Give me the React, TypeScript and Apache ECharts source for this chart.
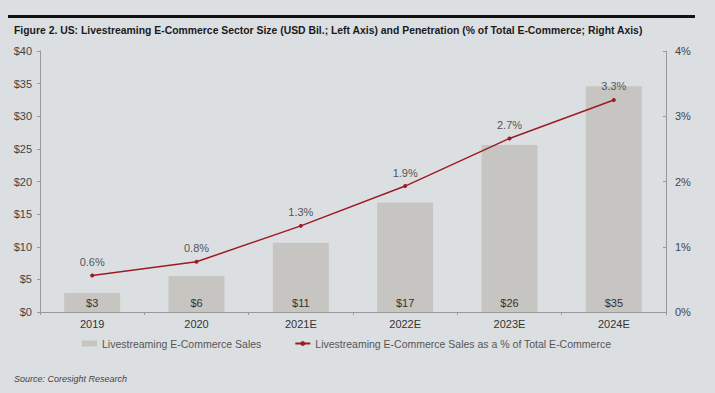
import React, { useEffect, useRef } from "react";
import * as echarts from "echarts";

const categories = ["2019", "2020", "2021E", "2022E", "2023E", "2024E"];
const salesBil = [2.9, 5.5, 10.6, 16.8, 25.6, 34.6];
const penetrationPct = [0.56, 0.77, 1.32, 1.93, 2.66, 3.25];
const leftTicks = [0, 5, 10, 15, 20, 25, 30, 35, 40];
const rightTicks = [0, 1, 2, 3, 4];

const titleText =
  "Figure 2. US: Livestreaming E-Commerce Sector Size (USD Bil.; Left Axis) and Penetration (% of Total E-Commerce; Right Axis)";
const sourceText = "Source: Coresight Research";
const salesName = "Livestreaming E-Commerce Sales";
const penName = "Livestreaming E-Commerce Sales as a % of Total E-Commerce";

const FONT = "'Liberation Sans', Arial, sans-serif";

export default function App() {
  const ref = useRef<HTMLDivElement>(null);
  useEffect(() => {
    if (!ref.current) return;
    const chart = echarts.init(ref.current, null, { renderer: "svg" });
    chart.setOption({
      animation: false,
      backgroundColor: "#dcdfe2",
      textStyle: { fontFamily: FONT },
      graphic: [
        {
          type: "rect",
          shape: { x: 8, y: 15, width: 687, height: 3 },
          style: { fill: "#111" },
        },
        {
          type: "text",
          x: 14,
          y: 30,
          style: {
            text: titleText,
            font: "bold 10.4px " + FONT,
            fill: "#1a1a1a",
            verticalAlign: "middle",
          },
        },
        {
          type: "text",
          x: 14,
          y: 379,
          style: {
            text: sourceText,
            font: "italic 9px " + FONT,
            fill: "#444",
            verticalAlign: "middle",
          },
        },
      ],
      legend: {
        left: 82,
        top: 338,
        padding: 0,
        itemGap: 33,
        itemWidth: 15,
        itemHeight: 6,
        textStyle: { fontFamily: FONT, fontSize: 10.5, color: "#555" },
        data: [
          { name: salesName, icon: "rect", itemStyle: { color: "#c6c5c1" } },
          { name: penName },
        ],
      },
      grid: { left: 40, right: 49, top: 51, bottom: 81 },
      xAxis: {
        type: "category",
        data: categories,
        axisLine: { lineStyle: { color: "#999" } },
        axisTick: { show: true, length: 3, lineStyle: { color: "#999" } },
        axisLabel: { color: "#333", fontSize: 11, margin: 6, fontFamily: FONT },
      },
      yAxis: [
        {
          type: "value",
          min: leftTicks[0],
          max: leftTicks[leftTicks.length - 1],
          interval: 5,
          splitLine: { show: false },
          axisLine: { show: true, lineStyle: { color: "#999" } },
          axisTick: { show: true, length: 3, lineStyle: { color: "#999" } },
          axisLabel: {
            color: "#444",
            fontSize: 11,
            margin: 8,
            fontFamily: FONT,
            formatter: (v: number) => "$" + v,
          },
        },
        {
          type: "value",
          min: rightTicks[0],
          max: rightTicks[rightTicks.length - 1],
          interval: 1,
          position: "right",
          splitLine: { show: false },
          axisLine: { show: true, lineStyle: { color: "#999" } },
          axisTick: { show: true, inside: true, length: 3, lineStyle: { color: "#999" } },
          axisLabel: {
            color: "#444",
            fontSize: 11,
            margin: 9,
            fontFamily: FONT,
            formatter: (v: number) => v + "%",
          },
        },
      ],
      series: [
        {
          name: salesName,
          type: "bar",
          data: salesBil,
          barWidth: 56,
          itemStyle: { color: "#c6c5c1" },
          label: {
            show: true,
            position: "insideBottom",
            distance: 4,
            color: "#333",
            fontSize: 11,
            fontFamily: FONT,
            formatter: (p: any) => "$" + Math.round(p.value),
          },
        },
        {
          name: penName,
          type: "line",
          yAxisIndex: 1,
          data: penetrationPct,
          symbol: "circle",
          symbolSize: 4,
          lineStyle: { color: "#9e1b24", width: 1.5 },
          itemStyle: { color: "#9e1b24" },
          label: {
            show: true,
            position: "top",
            distance: 6,
            color: "#555",
            fontSize: 11,
            fontFamily: FONT,
            formatter: (p: any) => p.value.toFixed(1) + "%",
          },
        },
      ],
    });
    return () => chart.dispose();
  }, []);
  return (
    <div
      ref={ref}
      style={{ position: "fixed", left: 0, top: 0, width: 715, height: 393 }}
    />
  );
}
